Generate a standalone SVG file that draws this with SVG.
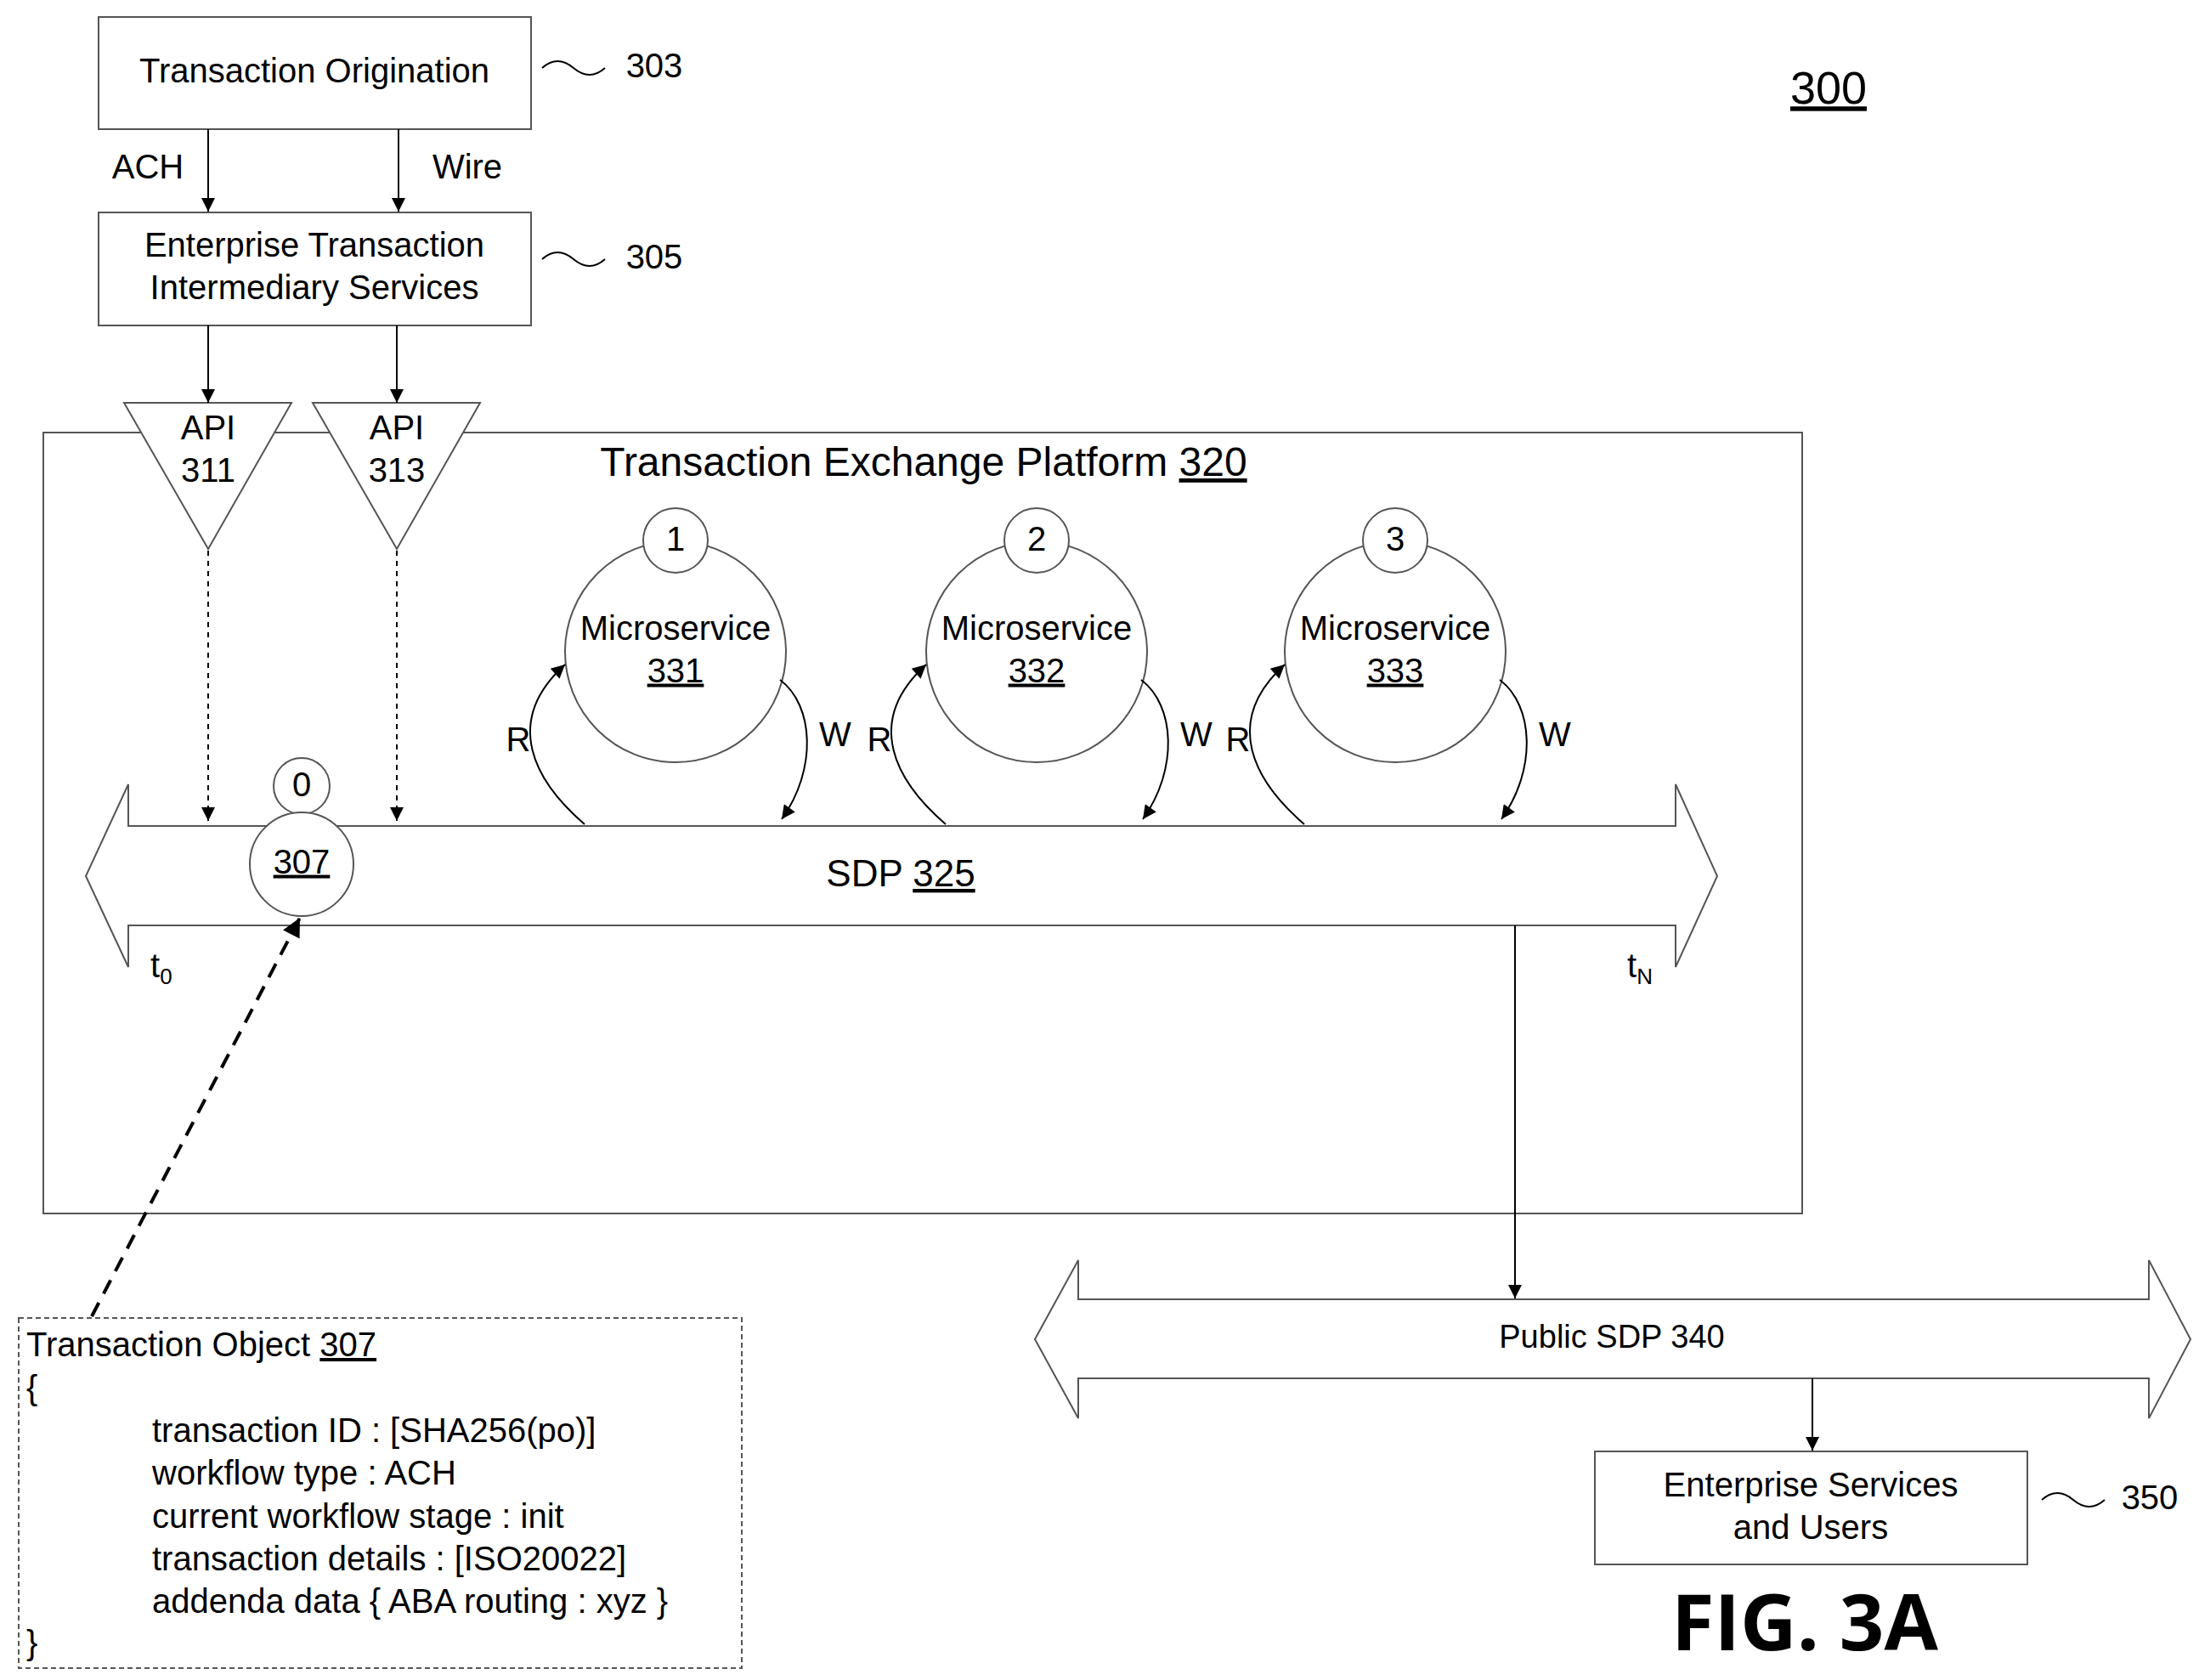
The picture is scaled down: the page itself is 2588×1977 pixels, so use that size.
<svg xmlns="http://www.w3.org/2000/svg" width="2588" height="1977" viewBox="0 0 2588 1977">
<style>
text{font-family:"Liberation Sans",Arial,sans-serif;font-size:40px;fill:#000}
.c{text-anchor:middle;dominant-baseline:middle}
.b{fill:#fff;stroke:#555;stroke-width:2}
.l{fill:none;stroke:#000;stroke-width:2}
.d{fill:none;stroke:#000;stroke-width:2;stroke-dasharray:6,6}
</style>
<defs>
<marker id="a" viewBox="0 0 10 10" refX="10" refY="5" markerWidth="18" markerHeight="16" markerUnits="userSpaceOnUse" orient="auto"><path d="M0,0L10,5L0,10z" fill="#000"/></marker>
<marker id="a2" viewBox="0 0 10 10" refX="10" refY="5" markerWidth="24" markerHeight="22" markerUnits="userSpaceOnUse" orient="auto"><path d="M0,0L10,5L0,10z" fill="#000"/></marker>
</defs>
<rect width="2588" height="1977" fill="#fff"/>
<g id="platform"><rect x="51" y="509" width="2070" height="919" class="b"/>
<text x="1087" y="547" class="c" style="font-size:48px">Transaction Exchange Platform <tspan text-decoration="underline">320</tspan></text></g>
<g id="n303"><rect x="116" y="20" width="509" height="132" class="b"/><text x="370" y="86" class="c">Transaction Origination</text>
<path d="M638,80 q18,-16 37,0 t37,0" class="l"/><text x="770" y="80" class="c">303</text></g>
<g id="n305"><rect x="116" y="250" width="509" height="133" class="b"/><text x="370" y="291" class="c">Enterprise Transaction</text><text x="370" y="341" class="c">Intermediary Services</text>
<path d="M638,305 q18,-16 37,0 t37,0" class="l"/><text x="770" y="305" class="c">305</text></g>
<g id="api311"><path d="M146,474L343,474L245,646z" class="b"/><text x="245" y="506" class="c">API</text><text x="245" y="556" class="c">311</text></g>
<g id="api313"><path d="M368,474L565,474L467,646z" class="b"/><text x="467" y="506" class="c">API</text><text x="467" y="556" class="c">313</text></g>
<g id="sdp325"><path d="M101,1031L151,923L151,972L1972,972L1972,923L2021,1031L1972,1138L1972,1089L151,1089L151,1138z" class="b"/>
<text x="1060" y="1031" class="c" style="font-size:44px">SDP <tspan text-decoration="underline">325</tspan></text>
<text x="177" y="1150" style="font-size:40px">t<tspan font-size="26" dy="8">0</tspan></text>
<text x="1915" y="1150" style="font-size:40px">t<tspan font-size="26" dy="8">N</tspan></text></g>
<g id="n307"><circle cx="355" cy="925" r="33" class="b"/><text x="355" y="926" class="c">0</text>
<circle cx="355" cy="1017" r="61" class="b"/><text x="355" y="1017" class="c" text-decoration="underline">307</text></g>
<g id="ms331"><circle cx="795" cy="767" r="130" class="b"/><circle cx="795" cy="636" r="38" class="b"/><text x="795" y="637" class="c">1</text><text x="795" y="742" class="c">Microservice</text><text x="795" y="792" class="c" text-decoration="underline">331</text></g>
<g id="ms332"><circle cx="1220" cy="767" r="130" class="b"/><circle cx="1220" cy="636" r="38" class="b"/><text x="1220" y="637" class="c">2</text><text x="1220" y="742" class="c">Microservice</text><text x="1220" y="792" class="c" text-decoration="underline">332</text></g>
<g id="ms333"><circle cx="1642" cy="767" r="130" class="b"/><circle cx="1642" cy="636" r="38" class="b"/><text x="1642" y="637" class="c">3</text><text x="1642" y="742" class="c">Microservice</text><text x="1642" y="792" class="c" text-decoration="underline">333</text></g>
<g id="pub340"><path d="M1218,1576L1269,1483L1269,1529L2529,1529L2529,1483L2578,1576L2529,1669L2529,1622L1269,1622L1269,1669z" class="b"/><text x="1897" y="1576" class="c" style="font-size:38px">Public SDP 340</text></g>
<g id="n350"><rect x="1877" y="1708" width="509" height="133" class="b"/><text x="2131" y="1750" class="c">Enterprise Services</text><text x="2131" y="1800" class="c">and Users</text>
<path d="M2403,1765 q18,-16 37,0 t37,0" class="l"/><text x="2530" y="1765" class="c">350</text></g>
<g id="obj"><rect x="22" y="1551" width="851" height="412" fill="#fff" stroke="#555" stroke-width="2" stroke-dasharray="6,4"/>
<text x="31" y="1596">Transaction Object <tspan text-decoration="underline">307</tspan></text>
<text x="31" y="1647">{</text>
<text x="179" y="1697">transaction ID : [SHA256(po)]</text>
<text x="179" y="1747">workflow type : ACH</text>
<text x="179" y="1798">current workflow stage : init</text>
<text x="179" y="1848">transaction details : [ISO20022]</text>
<text x="179" y="1898">addenda data { ABA routing : xyz }</text>
<text x="31" y="1947">}</text></g>
<g id="labels"><text x="2152" y="108" class="c" text-decoration="underline" style="font-size:54px">300</text>
<text x="2124" y="1917" class="c" style="font-size:92px;font-weight:bold;font-family:'Open Sans','DejaVu Sans',sans-serif">FIG. 3A</text></g>
<g id="connectors">
<line x1="245" y1="152" x2="245" y2="249" class="l" marker-end="url(#a)"/>
<line x1="469" y1="152" x2="469" y2="249" class="l" marker-end="url(#a)"/>
<text x="174" y="199" class="c">ACH</text><text x="550" y="199" class="c">Wire</text>
<line x1="245" y1="383" x2="245" y2="474" class="l" marker-end="url(#a)"/>
<line x1="467" y1="383" x2="467" y2="474" class="l" marker-end="url(#a)"/>
<line x1="245" y1="648" x2="245" y2="966" class="d" stroke-width="1.5" marker-end="url(#a)"/>
<line x1="467" y1="648" x2="467" y2="966" class="d" stroke-width="1.5" marker-end="url(#a)"/>
<path d="M688,970 C630,920 590,850 665,782" class="l" stroke-width="1.5" marker-end="url(#a)"/>
<path d="M918,800 C958,830 962,905 920,964" class="l" stroke-width="1.5" marker-end="url(#a)"/>
<path d="M1113,970 C1055,920 1015,850 1090,782" class="l" stroke-width="1.5" marker-end="url(#a)"/>
<path d="M1343,800 C1383,830 1387,905 1345,964" class="l" stroke-width="1.5" marker-end="url(#a)"/>
<path d="M1535,970 C1477,920 1437,850 1512,782" class="l" stroke-width="1.5" marker-end="url(#a)"/>
<path d="M1765,800 C1805,830 1809,905 1767,964" class="l" stroke-width="1.5" marker-end="url(#a)"/>
<text x="610" y="873" class="c">R</text><text x="983" y="867" class="c">W</text>
<text x="1035" y="873" class="c">R</text><text x="1408" y="867" class="c">W</text>
<text x="1457" y="873" class="c">R</text><text x="1830" y="867" class="c">W</text>
<line x1="1783" y1="1089" x2="1783" y2="1528" class="l" marker-end="url(#a)"/>
<line x1="2133" y1="1622" x2="2133" y2="1707" class="l" marker-end="url(#a)"/>
<line x1="108" y1="1549" x2="353" y2="1080" stroke="#000" stroke-width="4" stroke-dasharray="18,12" marker-end="url(#a2)"/>
</g>
</svg>
